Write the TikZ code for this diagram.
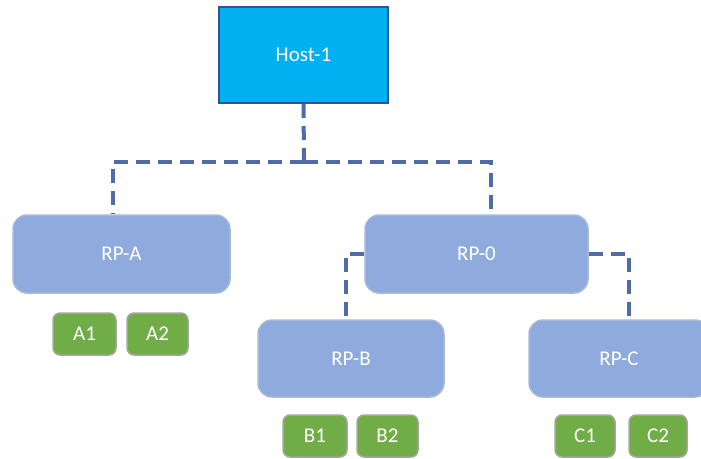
\documentclass[tikz,border=0pt]{standalone}
\usepackage{fontspec}
\setmainfont{Carlito}
\usetikzlibrary{calc}
\definecolor{hostfill}{HTML}{00B0F0}
\definecolor{hostdraw}{HTML}{2F5597}
\definecolor{rpfill}{HTML}{8FAADC}
\definecolor{rpdraw}{HTML}{A9B8D6}
\definecolor{gfill}{HTML}{70AD47}
\definecolor{gdraw}{HTML}{A5A5A5}
\definecolor{linkc}{HTML}{4F6CA8}
\begin{document}
\begin{tikzpicture}[x=1pt,y=-1pt,
  lbl/.style={text=white, font=\fontsize{21}{25}\selectfont, inner sep=0pt},
  hostbox/.style={lbl, draw=hostdraw, line width=2pt, fill=hostfill, minimum width=169pt, minimum height=96pt},
  rpbox/.style={lbl, draw=rpdraw, line width=1.5pt, fill=rpfill, rounded corners=14pt},
  leaf/.style={lbl, draw=gdraw, line width=1.5pt, fill=gfill, rounded corners=7pt, minimum height=42pt},
  link/.style={draw=linkc, line width=4pt, dash pattern=on 14pt off 8pt}]
\useasboundingbox (0,0) rectangle (701,458);

\node[hostbox] (host) at (303.5,55) {Host-1};
\node[rpbox, minimum width=217pt, minimum height=78pt] (rpa) at (121.5,254) {RP-A};
\node[rpbox, minimum width=223pt, minimum height=78pt] (rp0) at (476.5,254) {RP-0};
\node[rpbox, minimum width=186pt, minimum height=77pt] (rpb) at (351,358.5) {RP-B};
\node[rpbox, minimum width=180pt, minimum height=77pt] (rpc) at (619,358.5) {RP-C};

\node[leaf, minimum width=63pt] (a1) at (84.5,334) {A1};
\node[leaf, minimum width=61pt] (a2) at (157.5,334) {A2};
\node[leaf, minimum width=64pt] (b1) at (315,436) {B1};
\node[leaf, minimum width=61pt] (b2) at (387.5,436) {B2};
\node[leaf, minimum width=60pt] (c1) at (585,436) {C1};
\node[leaf, minimum width=58pt] (c2) at (658,436) {C2};

\coordinate (j) at (304,162);
\coordinate (ta) at ($(rpa.north)+(-8.5,0)$);
\coordinate (t0) at ($(rp0.north)+(14.5,0)$);
\coordinate (tb) at ($(rpb.north)+(-5,0)$);
\coordinate (tc) at ($(rpc.north)+(10,0)$);

\draw[link] (host.south) -- (j);
\draw[link] (j) -| (ta);
\draw[link] (j) -| (t0);
\draw[link] (rp0.west) -| (tb);
\draw[link] (rp0.east) -| (tc);
\end{tikzpicture}
\end{document}
